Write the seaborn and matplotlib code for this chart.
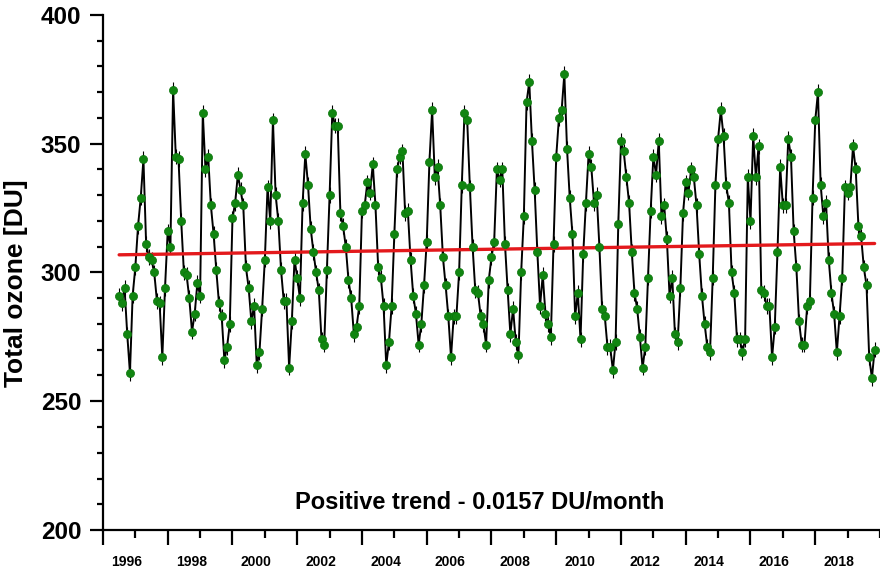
import numpy as np
import pandas as pd
import seaborn as sns
import matplotlib
matplotlib.use("Agg")
import matplotlib.pyplot as plt
from matplotlib.ticker import MultipleLocator
from matplotlib.transforms import ScaledTranslation

sns.set_theme(style="ticks")
plt.rcParams['font.family'] = ['Liberation Sans', 'DejaVu Sans']
plt.rcParams['font.weight'] = 'bold'
for key in ['text.color', 'axes.labelcolor', 'xtick.color', 'ytick.color', 'axes.edgecolor']:
    plt.rcParams[key] = 'black'

# monthly total ozone [DU], Jul 1996 - Nov 2019
oz_1996 = [291, 288, 294, 276, 261, 291]
oz_1997 = [302, 318, 329, 344, 311, 306, 305, 300, 289, 288, 267, 294]
oz_1998 = [316, 310, 371, 345, 344, 320, 300, 299, 290, 277, 284, 296]
oz_1999 = [291, 362, 340, 345, 326, 315, 301, 288, 283, 266, 271, 280]
oz_2000 = [321, 327, 338, 332, 326, 302, 294, 281, 287, 264, 269, 286]
oz_2001 = [305, 333, 320, 359, 330, 320, 301, 289, 289, 263, 281, 305]
oz_2002 = [298, 290, 327, 346, 334, 317, 308, 300, 293, 274, 272, 301]
oz_2003 = [330, 362, 357, 357, 323, 318, 310, 297, 290, 276, 279, 287]
oz_2004 = [324, 326, 335, 331, 342, 326, 302, 298, 287, 264, 273, 287]
oz_2005 = [315, 340, 345, 347, 323, 324, 305, 291, 284, 272, 280, 295]
oz_2006 = [312, 343, 363, 337, 341, 326, 306, 295, 283, 267, 283, 283]
oz_2007 = [300, 334, 362, 359, 333, 310, 293, 292, 283, 280, 272, 297]
oz_2008 = [306, 312, 340, 336, 340, 311, 293, 276, 286, 273, 268, 300]
oz_2009 = [322, 366, 374, 351, 332, 308, 287, 299, 284, 280, 275, 311]
oz_2010 = [345, 360, 363, 377, 348, 329, 315, 283, 292, 274, 307, 327]
oz_2011 = [346, 341, 327, 330, 310, 286, 283, 271, 271, 262, 273, 319]
oz_2012 = [351, 347, 337, 327, 308, 292, 286, 275, 263, 271, 298, 324]
oz_2013 = [345, 338, 351, 322, 326, 313, 291, 298, 276, 273, 294, 323]
oz_2014 = [335, 331, 340, 337, 326, 307, 291, 280, 271, 269, 298, 334]
oz_2015 = [352, 363, 353, 334, 327, 300, 292, 274, 274, 269, 274, 337]
oz_2016 = [320, 353, 337, 349, 293, 292, 287, 287, 267, 279, 308, 341]
oz_2017 = [326, 326, 352, 345, 316, 302, 281, 272, 272, 287, 289, 329]
oz_2018 = [359, 370, 334, 322, 327, 305, 292, 284, 269, 283, 298, 333]
oz_2019 = [331, 333, 349, 340, 318, 314, 302, 295, 267, 259, 270]
oz_err = 3.0

ozone = np.concatenate([oz_1996, oz_1997, oz_1998, oz_1999, oz_2000, oz_2001,
                        oz_2002, oz_2003, oz_2004, oz_2005, oz_2006, oz_2007,
                        oz_2008, oz_2009, oz_2010, oz_2011, oz_2012, oz_2013,
                        oz_2014, oz_2015, oz_2016, oz_2017, oz_2018, oz_2019]).astype(float)
year = 1996.5 + np.arange(len(ozone)) / 12.0
df = pd.DataFrame({"year": year, "ozone": ozone})

fig = plt.figure(figsize=(8.8, 5.73), dpi=100)
ax = fig.add_axes([0.117, 0.075, 0.883, 0.899])

ax.errorbar(df.year, df.ozone, yerr=oz_err, fmt='none', ecolor='black',
            elinewidth=0.8, zorder=1)
sns.lineplot(data=df, x="year", y="ozone", color="black", lw=1.4, ax=ax, zorder=2)
sns.regplot(data=df, x="year", y="ozone", scatter=False, ci=None, color="#e3191c",
            line_kws=dict(lw=2.4, zorder=3), ax=ax)
sns.scatterplot(data=df, x="year", y="ozone", color="#118511", edgecolor="#0b760b",
                linewidth=0.5, s=34, ax=ax, zorder=4)

ax.set_xlim(1996, 2020)
ax.set_ylim(200, 400)
ax.xaxis.set_minor_locator(MultipleLocator(1))
ax.yaxis.set_major_locator(MultipleLocator(50))
ax.yaxis.set_minor_locator(MultipleLocator(10))
ax.set_xticks(np.arange(1996, 2019, 2))
ax.set_xticklabels([str(y) for y in range(1996, 2019, 2)])

sns.despine(ax=ax)
for s in ["left", "bottom"]:
    ax.spines[s].set_linewidth(1.6)

ax.tick_params(axis='y', which='major', length=9.5, width=1.6, labelsize=17.5, pad=6)
ax.tick_params(axis='y', which='minor', length=4.5, width=1.6)
ax.tick_params(axis='x', which='major', length=11, width=1.6, labelsize=10, pad=7)
ax.tick_params(axis='x', which='minor', length=6, width=1.6)

# year labels sit right of their tick in the original
shift = ScaledTranslation(0.235, 0, fig.dpi_scale_trans)
for lab in ax.get_xticklabels():
    lab.set_transform(lab.get_transform() + shift)

ax.set_xlabel("")
ax.set_ylabel("Total ozone [DU]", fontsize=19, fontweight='bold')
ax.yaxis.set_label_coords(-0.096, 0.48)

ax.text(0.4846, 0.040, "Positive trend - 0.0157 DU/month", transform=ax.transAxes,
        ha='center', va='baseline', fontsize=17, fontweight='bold')

fig.savefig("out.png", dpi=100)
